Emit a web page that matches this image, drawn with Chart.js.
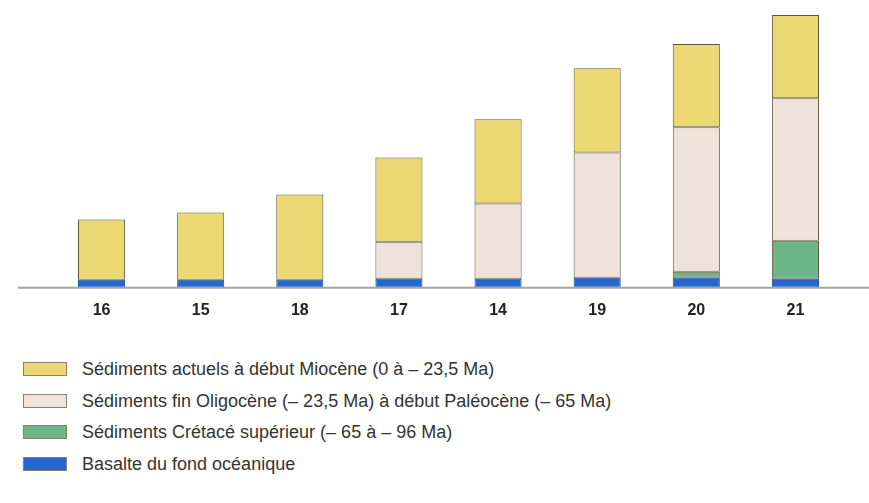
<!DOCTYPE html>
<html>
<head>
<meta charset="utf-8">
<script src="https://cdn.jsdelivr.net/npm/chart.js@4"></script>
<style>
  body { margin: 0; background: #fff; font-family: "Liberation Sans", Arial, sans-serif; }
  #wrap { position: relative; width: 869px; height: 325px; }
  #legend { margin: 0; padding: 0; list-style: none; position: absolute; left: 23px; top: 359px; }
  #legend li { height: 31.5px; display: flex; align-items: flex-start; color: #333; font-size: 18px; }
  #legend .box { width: 44px; height: 14px; margin-top: 3px; margin-right: 15px; box-sizing: border-box; border: 1px solid #8a8070; }
</style>
</head>
<body>
<div id="wrap"><canvas id="chart"></canvas></div>
<ul id="legend"></ul>
<script>
// forages (numéros des sites), dans l'ordre du schéma
const sites = ['16', '15', '18', '17', '14', '19', '20', '21'];

const basalte = [8, 8, 8, 9, 9, 10, 10, 9];
const cretace = [0, 0, 0, 0, 0, 0, 6, 38];
const oligoPaleo = [0, 0, 0, 37, 75, 125, 144, 142];
const mioActuel = [60, 67, 85, 84, 84, 84, 83, 83];

const labels = [
  'Basalte du fond océanique',
  'Sédiments Crétacé supérieur (– 65 à – 96 Ma)',
  'Sédiments fin Oligocène (– 23,5 Ma) à début Paléocène (– 65 Ma)',
  'Sédiments actuels à début Miocène (0 à – 23,5 Ma)'
];
const colors = ['#2467cf', '#6cb587', '#eee2da', '#ecd873'];

const baseline = {
  id: 'baseline',
  afterDatasetsDraw(chart) {
    const y = chart.scales.y.getPixelForValue(0);
    const ctx = chart.ctx;
    ctx.save();
    ctx.strokeStyle = '#a4a4a4';
    ctx.lineWidth = 2;
    ctx.beginPath();
    ctx.moveTo(18, y);
    ctx.lineTo(chart.width, y);
    ctx.stroke();
    ctx.restore();
  }
};

const chart = new Chart(document.getElementById('chart'), {
  type: 'bar',
  data: {
    labels: sites,
    datasets: [basalte, cretace, oligoPaleo, mioActuel].map((d, i) => ({
      label: labels[i],
      data: d,
      backgroundColor: colors[i],
      borderColor: i === 0 ? '#1d4f9e' : '#5e5540',
      borderWidth: 1,
      borderSkipped: false,
      barPercentage: 0.475,
      categoryPercentage: 1
    }))
  },
  options: {
    responsive: true,
    maintainAspectRatio: false,
    animation: false,
    layout: { padding: { left: 52, right: 24, top: 0, bottom: 0 } },
    plugins: { legend: { display: false }, tooltip: { enabled: false } },
    scales: {
      x: {
        stacked: true,
        grid: { display: false },
        border: { display: false },
        ticks: { color: '#222', padding: 5, font: { family: 'Liberation Sans', size: 16, weight: 'bold' } }
      },
      y: {
        stacked: true,
        display: false,
        min: 0,
        max: 287
      }
    }
  },
  plugins: [baseline]
});

// légende (ordre du haut vers le bas comme sur le schéma)
const legend = document.getElementById('legend');
[3, 2, 1, 0].forEach(i => {
  const li = document.createElement('li');
  li.innerHTML = '<span class="box" style="background:' + colors[i] + '"></span><span>' + labels[i] + '</span>';
  legend.appendChild(li);
});
</script>
</body>
</html>
